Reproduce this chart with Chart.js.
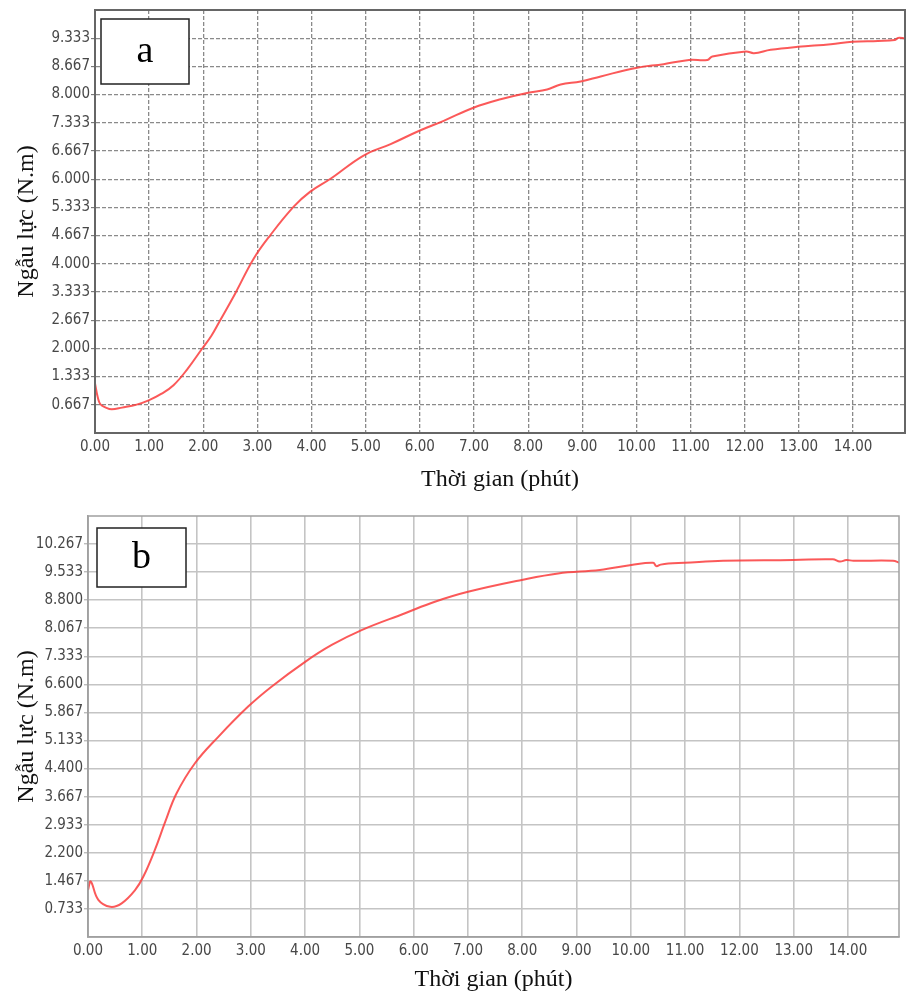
<!DOCTYPE html>
<html>
<head>
<meta charset="utf-8">
<script src="https://cdn.jsdelivr.net/npm/chart.js@4/dist/chart.umd.min.js"></script>
<style>
  body { margin: 0; background: #fff; }
  canvas { display: block; }
</style>
</head>
<body>
<canvas id="chart-a" width="907" height="495"></canvas>
<canvas id="chart-b" width="907" height="504"></canvas>
<script>
// panel a: torque vs time (minutes)
const timeA = [0, 0.05, 0.1, 0.2, 0.31, 0.5, 0.77, 0.99, 1.23, 1.45, 1.7, 1.97, 2.15, 2.31, 2.59, 2.93, 3.24, 3.67, 3.97, 4.35, 4.96, 5.46, 5.98, 6.44, 6.99, 7.49, 7.98, 8.35, 8.6, 8.97, 9.34, 9.99, 10.5, 10.97, 11.31, 11.4, 12.02, 12.17, 12.48, 12.98, 13.59, 13.99, 14.46, 14.77, 14.83, 14.96];
const torqueA = [1.17, 0.85, 0.68, 0.6, 0.56, 0.6, 0.67, 0.77, 0.93, 1.13, 1.5, 1.98, 2.3, 2.66, 3.3, 4.12, 4.68, 5.35, 5.7, 6.01, 6.56, 6.83, 7.14, 7.38, 7.69, 7.89, 8.04, 8.12, 8.24, 8.31, 8.43, 8.63, 8.72, 8.82, 8.82, 8.9, 9.02, 8.98, 9.06, 9.13, 9.19, 9.25, 9.27, 9.29, 9.34, 9.33];

// panel b
const timeB = [0, 0.05, 0.19, 0.41, 0.62, 0.87, 1.02, 1.23, 1.42, 1.63, 1.97, 2.4, 2.95, 3.38, 4.0, 4.49, 5.04, 5.84, 6.39, 7.0, 7.99, 8.66, 9.43, 10.01, 10.41, 10.47, 10.55, 10.69, 10.99, 11.7, 12.99, 13.72, 13.85, 13.97, 14.1, 14.83, 14.95];
const torqueB = [1.23, 1.45, 0.97, 0.79, 0.88, 1.23, 1.58, 2.27, 3.0, 3.75, 4.54, 5.23, 6.02, 6.54, 7.19, 7.63, 8.02, 8.46, 8.76, 9.02, 9.33, 9.5, 9.59, 9.72, 9.78, 9.69, 9.73, 9.76, 9.78, 9.83, 9.85, 9.87, 9.81, 9.85, 9.83, 9.83, 9.78];

const minuteTicks = [0, 1, 2, 3, 4, 5, 6, 7, 8, 9, 10, 11, 12, 13, 14];
const tickStepsY = [1, 2, 3, 4, 5, 6, 7, 8, 9, 10, 11, 12, 13, 14];

const xTitle = 'Thời gian (phút)';
const yTitle = 'Ngẫu lực (N.m)';

const tickFont = { family: "'DejaVu Sans Condensed', 'Liberation Sans Narrow', 'Liberation Sans', Arial, sans-serif", size: 15 };
const titleFont = { family: "'Liberation Serif', 'Times New Roman', serif", size: 24 };

const framePlugin = {
  id: 'frame',
  afterDraw(chart, args, o) {
    const { ctx, chartArea: a } = chart;
    ctx.save();
    ctx.setLineDash([]);
    ctx.strokeStyle = o.color;
    ctx.lineWidth = o.width;
    ctx.strokeRect(a.left, a.top, a.right - a.left, a.bottom - a.top);
    // letter box in the corner
    const bx = a.left + o.box[0], by = a.top + o.box[1];
    ctx.fillStyle = '#fff';
    ctx.fillRect(bx, by, o.box[2], o.box[3]);
    ctx.strokeStyle = '#222';
    ctx.lineWidth = 1.5;
    ctx.strokeRect(bx, by, o.box[2], o.box[3]);
    ctx.fillStyle = '#000';
    ctx.font = "38px 'Liberation Serif', 'Times New Roman', serif";
    ctx.textAlign = 'center';
    ctx.textBaseline = 'middle';
    ctx.fillText(o.letter, bx + o.box[2] / 2, by + o.box[3] / 2 + 1);
    ctx.restore();
  }
};

function makeChart(id, times, torques, cfg) {
  const pts = times.map((t, i) => ({ x: t, y: torques[i] }));
  return new Chart(document.getElementById(id), {
    type: 'line',
    data: { datasets: [{ data: pts, borderColor: 'rgba(250,60,60,0.85)', borderWidth: 2, pointRadius: 0, tension: 0.4, fill: false }] },
    options: {
      responsive: false,
      animation: false,
      layout: { padding: cfg.padding },
      plugins: {
        legend: { display: false },
        tooltip: { enabled: false },
        frame: { color: cfg.frameColor, width: cfg.frameWidth, box: cfg.box, letter: cfg.letter }
      },
      scales: {
        x: {
          type: 'linear', min: 0, max: cfg.xMax,
          afterBuildTicks: s => { s.ticks = minuteTicks.map(v => ({ value: v })); },
          afterFit: s => { s.height = 62; },
          ticks: { font: tickFont, color: '#474747', padding: 5, maxRotation: 0, autoSkip: false, callback: v => Number(v).toFixed(2) },
          grid: { color: cfg.gridColor, lineWidth: cfg.gridWidth, drawTicks: false },
          border: { display: true, color: cfg.frameColor, width: cfg.frameWidth, dash: cfg.dash },
          title: { display: true, text: xTitle, font: titleFont, color: '#111', padding: { top: 0, bottom: cfg.xTitlePad } }
        },
        y: {
          type: 'linear', min: 0, max: cfg.yMax,
          afterBuildTicks: s => { s.ticks = tickStepsY.map(k => ({ value: k * cfg.yMax / 15 })); },
          afterFit: s => { s.width = cfg.yWidth; },
          ticks: { font: tickFont, color: '#474747', padding: 1, autoSkip: false, callback: v => Number(v).toFixed(3) },
          grid: { color: cfg.gridColor, lineWidth: cfg.gridWidth, tickLength: 4, tickColor: cfg.frameColor, tickWidth: 1 },
          border: { display: true, color: cfg.frameColor, width: cfg.frameWidth, dash: cfg.dash },
          title: { display: true, text: yTitle, font: titleFont, color: '#111', padding: { top: 12, bottom: 0 } }
        }
      }
    },
    plugins: [framePlugin]
  });
}

// the grid dash lives on the border option in v4
makeChart('chart-a', timeA, torqueA, {
  padding: { left: 0, right: 2, top: 8, bottom: 0 },
  xMax: 14.96, yMax: 10, yWidth: 95, xTitlePad: 1,
  gridColor: '#8a8a8a', gridWidth: 1.3, dash: [4, 2],
  frameColor: '#666', frameWidth: 2,
  box: [6, 9, 88, 65], letter: 'a'
});
makeChart('chart-b', timeB, torqueB, {
  padding: { left: 0, right: 8, top: 21, bottom: 0 },
  xMax: 14.94, yMax: 11, yWidth: 88, xTitlePad: 5,
  gridColor: '#c4c4c4', gridWidth: 1.6, dash: [],
  frameColor: '#a0a0a0', frameWidth: 1.5,
  box: [9, 12, 89, 59], letter: 'b'
});
</script>
</body>
</html>
